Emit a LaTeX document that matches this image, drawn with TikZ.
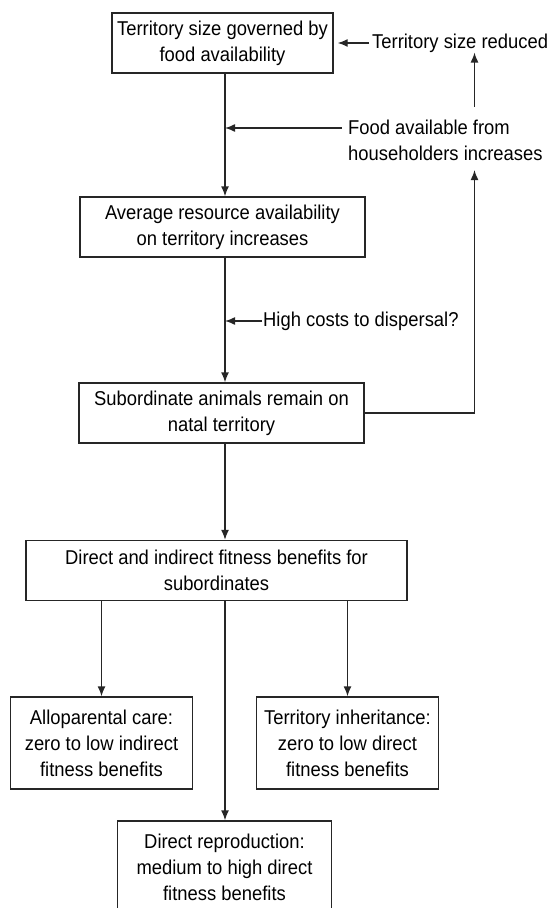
\documentclass[tikz,border=0pt]{standalone}
\usepackage{fontspec}
\setmainfont{Liberation Sans}[FakeStretch=0.92]
\usetikzlibrary{arrows.meta, positioning}

\begin{document}
\begin{tikzpicture}[x=1pt, y=-1pt,
    font=\fontsize{20}{26}\selectfont, color=black,
    box/.style={draw=black!85, line width=1.4pt, align=center, inner sep=0pt},
    sidenote/.style={inner sep=0pt, align=left, anchor=west},
    flow/.style={draw=black!85, line width=1.4pt, -{Latex[length=10pt, width=8pt]}}]
    \path[use as bounding box, clip] (0,0) rectangle (548,908);
        \coordinate (spine) at (225,0);
        \coordinate (upx) at (474.5,0);
    % main chain
    \node[box, minimum width=221, minimum height=60] (territory) at (222.5,43) {Territory size governed by\\food availability};
    \node[box, minimum width=285, minimum height=60] (average) at (222.5,227) {Average resource availability\\on territory increases};
    \node[box, minimum width=285, minimum height=60] (remain) at (221.5,413) {Subordinate animals remain on\\natal territory};
    \node[box, minimum width=381, minimum height=60] (benefits) at (216.5,570.5) {Direct and indirect fitness benefits for\\subordinates};
    \node[box, minimum width=182, minimum height=92] (allo) at (101.5,743) {Alloparental care:\\zero to low indirect\\fitness benefits};
    \node[box, minimum width=182, minimum height=92] (inherit) at (347.5,743) {Territory inheritance:\\zero to low direct\\fitness benefits};
    \node[box, minimum width=214, minimum height=92] (repro) at (224.5,867) {Direct reproduction:\\medium to high direct\\fitness benefits};
    % side notes
    \node[sidenote] (reduced) at (372,43) {Territory size reduced};
    \node[sidenote] (food) at (348,140.5) {Food available from\\householders increases};
    \node[sidenote] (costs) at (263,321) {High costs to dispersal?};
        \coordinate (foodin) at ([yshift=12.5pt]food.west);

    \draw[flow] (territory.south -| spine) -- (average.north -| spine);
    \draw[flow] (average.south -| spine) -- (remain.north -| spine);
    \draw[flow] (remain.south -| spine) -- (benefits.north -| spine);
    \draw[flow] (benefits.south -| spine) -- (repro.north -| spine);
    \draw[flow] (benefits.south -| allo.north) -- (allo.north);
    \draw[flow] (benefits.south -| inherit.north) -- (inherit.north);

    \draw[flow, shorten <=3pt, shorten >=4pt] (reduced.west) -- (territory.east);
    \draw[flow, shorten <=6.5pt] (foodin) -- (foodin -| spine);
    \draw[flow, shorten <=1pt] (costs.west) -- (costs.west -| spine);
    \draw[flow, shorten <=13pt] (food.north -| upx) -- (reduced.south -| upx);
    \draw[flow, shorten >=9pt] (remain.east) -| (food.south -| upx);
\end{tikzpicture}
\end{document}
